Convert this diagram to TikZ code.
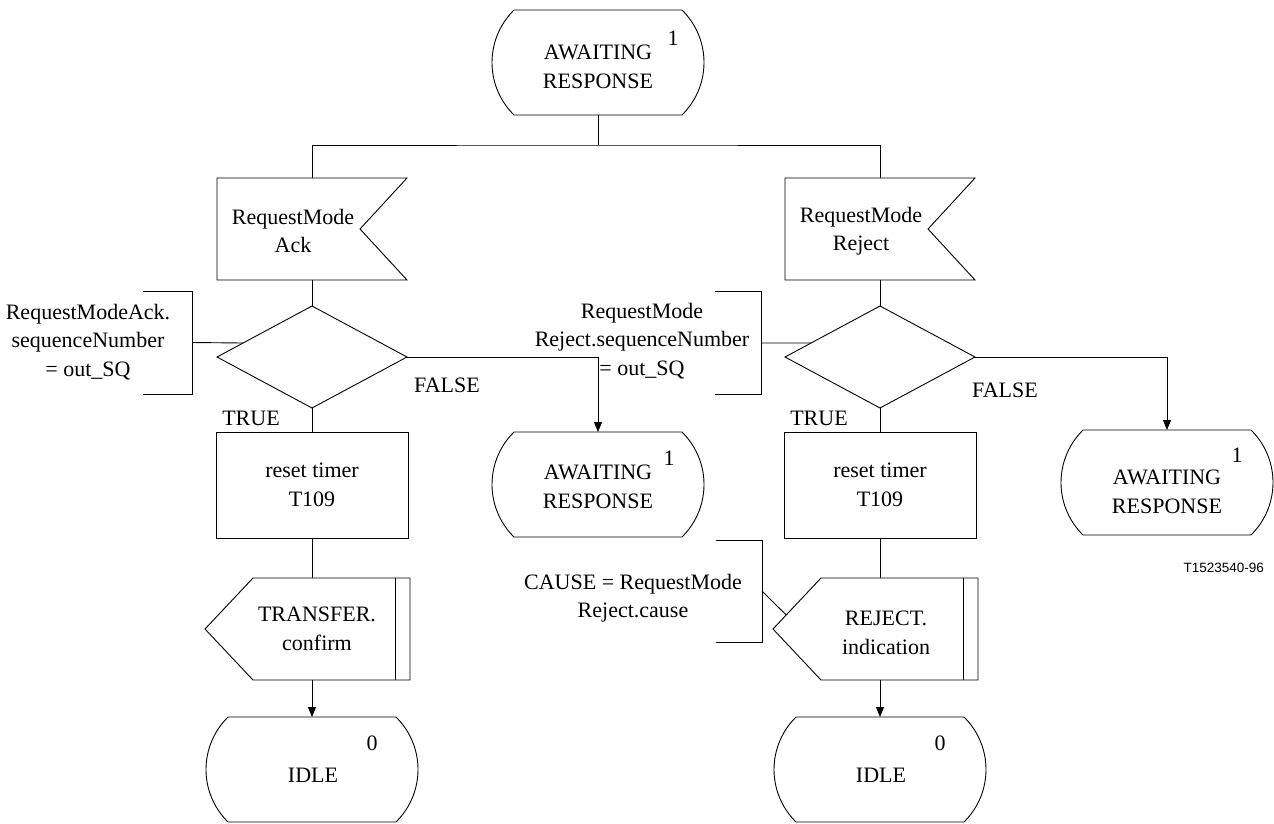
\documentclass[tikz,border=0pt]{standalone}
\usepackage{fontspec}
\setmainfont{Liberation Serif}
\newfontfamily\labelsans{Liberation Sans}
\usetikzlibrary{shapes.geometric,arrows.meta,calc}
\newcommand\sdlstate[1]{\draw (#1.north west) -- (#1.north east) arc[start angle=-45.5, end angle=45.5, radius=73.6] -- (#1.south west) arc[start angle=134.5, end angle=225.5, radius=73.6] -- (#1.north east);}
\newcommand\sdlinput[1]{\draw (#1.north west) -- (#1.north east) -- ($(#1.east)+(-47,0)$) -- (#1.south east) -- (#1.south west) -- cycle;}
\newcommand\sdloutput[1]{\draw (#1.west) -- ($(#1.north west)+(48,0)$) -- (#1.north east) -- (#1.south east) -- ($(#1.south west)+(48,0)$) -- cycle; \draw ($(#1.north east)+(-15,0)$) -- ($(#1.south east)+(-15,0)$);}
\newcommand\sdlcomment[1]{\draw (#1.north west) -- (#1.north east) -- (#1.south east) -- (#1.south west);}
\begin{document}
\begin{tikzpicture}[x=1pt,y=-1pt,
 line width=0.9pt,
 every node/.style={inner sep=0pt, outer sep=0pt},
 txt/.style={font=\fontsize{22}{28.5}\selectfont, align=center},
 statebox/.style={rectangle, minimum width=168pt, minimum height=105pt},
 inbox/.style={rectangle, minimum width=190pt, minimum height=102pt},
 taskbox/.style={rectangle, draw, minimum width=192pt, minimum height=106pt},
 outbox/.style={rectangle, minimum width=205pt, minimum height=102pt},
 decision/.style={diamond, draw, minimum width=190pt, minimum height=102pt},
 combox/.style={rectangle, minimum width=46pt, minimum height=103pt},
 flow/.style={-{Triangle[length=10pt,width=8pt]}},
]
\useasboundingbox (0,0) rectangle (1274,823);

% top state
\node[statebox] (s0) at (598,62.5) {};
\sdlstate{s0}
\node[txt] (s0t) at (598,67) {AWAITING\\RESPONSE};
\node[txt] (s0n) at (673,38) {1};
\coordinate (j) at (598,145);

% inputs
\node[inbox] (i1) at (312,229) {};
\sdlinput{i1}
\node[txt] (i1t) at (293,231) {RequestMode\\Ack};
\node[inbox] (i2) at (880,229) {};
\sdlinput{i2}
\node[txt] (i2t) at (861,231) {RequestMode\\Reject};

% decisions
\node[decision] (d1) at (312,357) {};
\node[decision] (d2) at (880,357) {};

% tasks
\node[taskbox, txt] (t1) at (312,485) {reset timer\\T109};
\node[taskbox, txt] (t2) at (880,485) {reset timer\\T109};

% outputs
\node[outbox] (o1) at (307.5,629) {};
\sdloutput{o1}
\node[txt] (o1t) at (317,629) {TRANSFER.\\confirm};
\node[outbox] (o2) at (875.5,629) {};
\sdloutput{o2}
\node[txt] (o2t) at (886,633) {REJECT.\\indication};
\coordinate (o2c) at ($(o2.north west)+(48,0)$);

% idle states
\node[statebox] (e1) at (312,769.5) {};
\sdlstate{e1}
\node[txt] (e1t) at (313,775) {IDLE};
\node[txt] (e1n) at (372,743) {0};
\node[statebox] (e2) at (880,769.5) {};
\sdlstate{e2}
\node[txt] (e2t) at (881,775) {IDLE};
\node[txt] (e2n) at (940,743) {0};

% awaiting states on FALSE branches
\node[statebox] (s1) at (598,484.5) {};
\sdlstate{s1}
\node[txt] (s1t) at (598,487) {AWAITING\\RESPONSE};
\node[txt] (s1n) at (669,458) {1};
\node[statebox] (s2) at (1167,482.5) {};
\sdlstate{s2}
\node[txt] (s2t) at (1167,492) {AWAITING\\RESPONSE};
\node[txt] (s2n) at (1237,455) {1};

% comments
\node[combox, minimum width=49pt] (c1) at (167.5,342.5) {};
\sdlcomment{c1}
\node[txt] (c1t) at (88,342) {RequestModeAck.\\sequenceNumber\\= out\_SQ};
\node[combox] (c2) at (738,343) {};
\sdlcomment{c2}
\node[txt] (c2t) at (642,341) {RequestMode\\Reject.sequenceNumber\\= out\_SQ};
\node[combox, minimum height=102pt] (c3) at (739,591) {};
\sdlcomment{c3}
\node[txt] (c3t) at (633,598) {CAUSE = RequestMode\\Reject.cause};

% labels
\node[txt] (f1) at (447,385) {FALSE};
\node[txt] (f2) at (1005,390) {FALSE};
\node[txt] (tr1) at (251,418) {TRUE};
\node[txt] (tr2) at (819,418) {TRUE};
\node[font=\labelsans\fontsize{13.5}{16}\selectfont, anchor=east] (code) at (1264,568) {T1523540-96};

% connectors
\draw (s0.south) -- (j);
\draw (i1.north) |- (j) -| (i2.north);
\draw (i1.south) -- (d1.north);
\draw (i2.south) -- (d2.north);
\draw (d1.south) -- (t1.north);
\draw (d2.south) -- (t2.north);
\draw (t1.south) -- (t1.south |- o1.north);
\draw (t2.south) -- (t2.south |- o2.north);
\draw[flow] (t1.south |- o1.south) -- (e1.north);
\draw[flow] (t2.south |- o2.south) -- (e2.north);
\draw[flow] (d1.east) -| (s1.north);
\draw[flow] (d2.east) -| (s2.north);
\draw (c1.east) -- ($(d1.west)!0.2745!(d1.north)$);
\draw (c2.east) -- ($(d2.west)!0.2745!(d2.north)$);
\draw (c3.east) -- ($(o2.west)!0.2745!(o2c)$);
\end{tikzpicture}
\end{document}
